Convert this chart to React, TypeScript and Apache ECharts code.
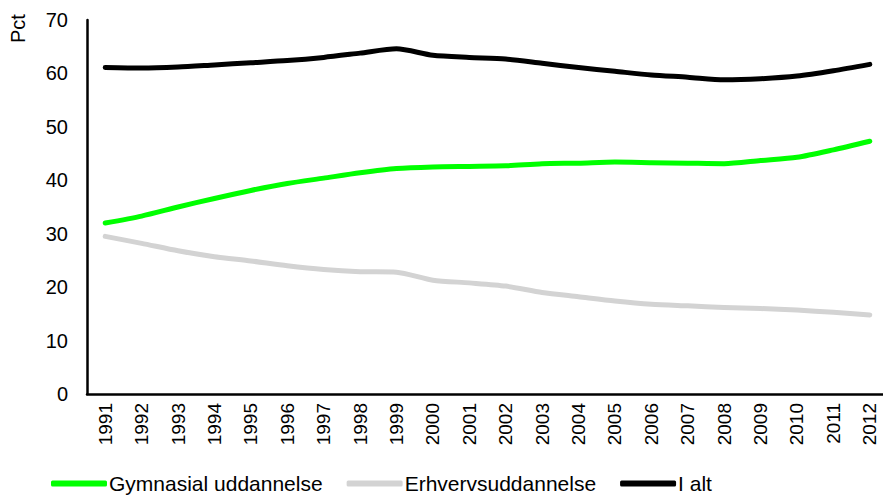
import React, { useEffect, useRef } from "react";
import * as echarts from "echarts";

const years = ["1991","1992","1993","1994","1995","1996","1997","1998","1999","2000","2001","2002","2003","2004","2005","2006","2007","2008","2009","2010","2011","2012"];
const gymnasial = [32.0, 33.3, 35.0, 36.6, 38.1, 39.4, 40.4, 41.4, 42.2, 42.5, 42.6, 42.7, 43.1, 43.2, 43.4, 43.3, 43.2, 43.1, 43.7, 44.3, 45.7, 47.3];
const erhverv = [29.5, 28.2, 26.8, 25.7, 24.9, 24.0, 23.3, 22.9, 22.8, 21.3, 20.8, 20.2, 19.0, 18.2, 17.4, 16.8, 16.5, 16.2, 16.0, 15.7, 15.3, 14.8];
const ialt = [61.1, 61.0, 61.2, 61.6, 62.0, 62.4, 63.0, 63.8, 64.6, 63.4, 63.0, 62.7, 61.9, 61.1, 60.4, 59.7, 59.3, 58.8, 59.0, 59.5, 60.5, 61.7];

const FONT = "Liberation Sans, Arial, sans-serif";

export default function App() {
  const ref = useRef<HTMLDivElement>(null);
  useEffect(() => {
    document.body.style.margin = "0";
    const chart = echarts.init(ref.current!, null, { renderer: "svg" });
    const mk = (name: string, data: number[], color: string) => ({
      name,
      type: "line",
      data,
      smooth: 0.25,
      symbol: "none",
      lineStyle: { color, width: 5, cap: "round", join: "round" },
      itemStyle: { color },
    });
    chart.setOption({
      animation: false,
      backgroundColor: "#ffffff",
      textStyle: { fontFamily: FONT },
      grid: { left: 87, top: 20, width: 801, bottom: 101, outerBoundsMode: "none", containLabel: false },
      xAxis: {
        type: "category",
        data: years,
        boundaryGap: true,
        axisLine: { lineStyle: { color: "#000", width: 2.5 } },
        axisTick: { show: false },
        axisLabel: { rotate: 90, color: "#000", fontSize: 19, fontFamily: FONT, margin: 9 },
      },
      yAxis: {
        type: "value",
        min: 0,
        max: 70,
        interval: 10,
        axisLine: { show: true, lineStyle: { color: "#000", width: 2.5 } },
        axisTick: { show: false },
        splitLine: { show: false },
        axisLabel: { color: "#000", fontSize: 20, fontFamily: FONT, margin: 19 },
      },
      legend: {
        left: 46,
        top: 468,
        itemWidth: 56,
        itemHeight: 6,
        itemGap: 24,
        icon: "roundRect",
        textStyle: { color: "#000", fontSize: 21, fontFamily: FONT, padding: [0, 0, 0, -3] },
        data: ["Gymnasial uddannelse", "Erhvervsuddannelse", "I alt"],
      },
      graphic: [
        {
          type: "text",
          x: 18,
          y: 43,
          rotation: Math.PI / 2,
          style: { text: "Pct", fontSize: 20, fontFamily: FONT, fill: "#000", textAlign: "left", textVerticalAlign: "middle" },
        },
      ],
      series: [
        mk("Gymnasial uddannelse", gymnasial, "#00ff00"),
        mk("Erhvervsuddannelse", erhverv, "#d3d3d3"),
        mk("I alt", ialt, "#000000"),
      ],
    });
    return () => chart.dispose();
  }, []);
  return <div ref={ref} style={{ width: 883, height: 495 }} />;
}
